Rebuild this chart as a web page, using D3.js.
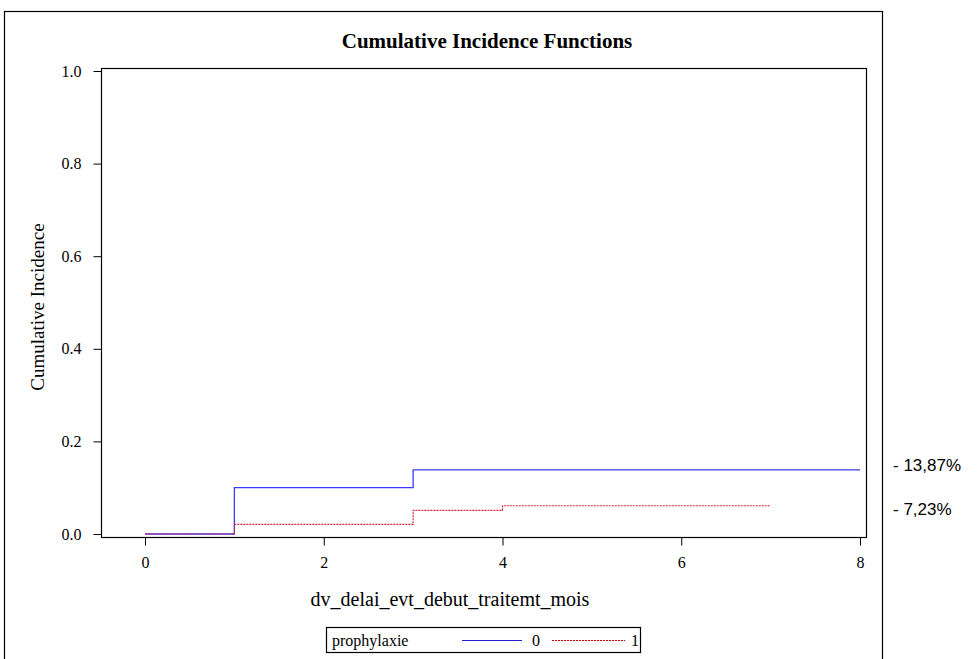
<!DOCTYPE html>
<html><head><meta charset="utf-8">
<script src="https://cdn.jsdelivr.net/npm/d3@7"></script>
<style>
html,body{margin:0;padding:0;background:#fff;}
svg{display:block;}
</style></head>
<body>
<svg id="chart" width="978" height="659"></svg>
<script>
// Data
const groups = ["0", "1"];
const timesGroup0 = [0, 1, 3, 8];
const cifGroup0 = [0, 0.100, 0.1387, 0.1387];
const timesGroup1 = [0, 1, 3, 4, 7];
const cifGroup1 = [0, 0.021, 0.051, 0.061, 0.061];
const xTicks = [0, 2, 4, 6, 8];
const yTicks = [0, 0.2, 0.4, 0.6, 0.8, 1.0];
const annotations = ["- 13,87%", "- 7,23%"];
const title = "Cumulative Incidence Functions";
const xLabel = "dv_delai_evt_debut_traitemt_mois";
const yLabel = "Cumulative Incidence";
const legendTitle = "prophylaxie";

const svg = d3.select("#chart");
const serif = "Liberation Serif, Times New Roman, serif";
const sans = "Liberation Sans, Arial, sans-serif";

const frame = {left:101, top:68, right:866, bottom:537};
const x = d3.scaleLinear().domain([0, 8]).range([145, 860]);
const y = d3.scaleLinear().domain([0, 1]).range([534, 71]);

// outer frame
svg.append("rect").attr("x", 4.5).attr("y", 11.5).attr("width", 878).attr("height", 700)
  .attr("fill", "none").attr("stroke", "#000").attr("stroke-width", 1.2);

// title
svg.append("text").attr("x", 487).attr("y", 48)
  .attr("text-anchor", "middle").style("font-family", serif).attr("font-weight", "bold")
  .attr("font-size", 21).text(title);

// plot frame
svg.append("rect").attr("x", frame.left + 0.5).attr("y", frame.top + 0.5)
  .attr("width", frame.right - frame.left).attr("height", frame.bottom - frame.top)
  .attr("fill", "none").attr("stroke", "#000").attr("stroke-width", 1.2);

// y axis
const yAxis = d3.axisLeft(y).tickValues(yTicks).tickFormat(d3.format(".1f")).tickSize(8).tickPadding(12);
const gy = svg.append("g").attr("transform", `translate(${frame.left + 0.5},0)`).call(yAxis);
gy.select(".domain").remove();
gy.selectAll("text").style("font-family", serif).attr("font-size", 16).attr("fill", "#000");
gy.selectAll("line").attr("stroke", "#000");

// x axis
const xAxis = d3.axisBottom(x).tickValues(xTicks).tickFormat(d3.format("d")).tickSize(8).tickPadding(11);
const gx = svg.append("g").attr("transform", `translate(0,${frame.bottom + 0.5})`).call(xAxis);
gx.select(".domain").remove();
gx.selectAll("text").style("font-family", serif).attr("font-size", 16).attr("fill", "#000");
gx.selectAll("line").attr("stroke", "#000");

// axis labels
svg.append("text").attr("x", 450).attr("y", 606)
  .attr("text-anchor", "middle").style("font-family", serif).attr("font-size", 20).text(xLabel);
svg.append("text").attr("transform", "translate(44,307) rotate(-90)")
  .attr("text-anchor", "middle").style("font-family", serif).attr("font-size", 19).text(yLabel);

// curves
const line = d3.line().x(d => x(d[0])).y(d => y(d[1])).curve(d3.curveStepAfter);
const data0 = timesGroup0.map((t, i) => [t, cifGroup0[i]]);
const data1 = timesGroup1.map((t, i) => [t, cifGroup1[i]]);
svg.append("path").datum(data0).attr("d", line).attr("fill", "none")
  .attr("stroke", "#3b3bff").attr("stroke-width", 1.3);
svg.append("path").datum(data1).attr("d", line).attr("fill", "none")
  .attr("stroke", "#d4283c").attr("stroke-width", 1.2).attr("stroke-dasharray", "2,1");

// annotations
annotations.forEach((t, i) => {
  svg.append("text").attr("x", 893).attr("y", i === 0 ? 471 : 515)
    .style("font-family", sans).attr("font-size", 17).attr("fill", "#000").text(t);
});

// legend
const lg = svg.append("g");
lg.append("rect").attr("x", 326.5).attr("y", 627.5).attr("width", 314).attr("height", 25)
  .attr("fill", "none").attr("stroke", "#000").attr("stroke-width", 1.2);
lg.append("text").attr("x", 332).attr("y", 646).style("font-family", serif).attr("font-size", 16).text(legendTitle);
lg.append("line").attr("x1", 462).attr("x2", 522).attr("y1", 640.5).attr("y2", 640.5)
  .attr("stroke", "#2222cc").attr("stroke-width", 1);
lg.append("text").attr("x", 532).attr("y", 646).style("font-family", serif).attr("font-size", 16).text(groups[0]);
lg.append("line").attr("x1", 552).attr("x2", 625).attr("y1", 640.5).attr("y2", 640.5)
  .attr("stroke", "#cc0000").attr("stroke-width", 1).attr("stroke-dasharray", "2,1");
lg.append("text").attr("x", 631).attr("y", 646).style("font-family", serif).attr("font-size", 16).text(groups[1]);
</script>
</body></html>
